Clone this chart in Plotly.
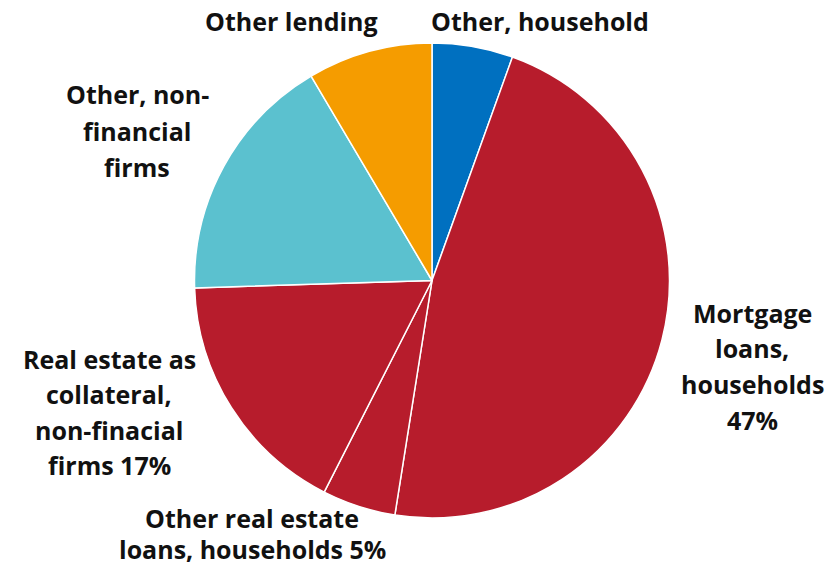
import plotly.graph_objects as go

# Lending breakdown, clockwise from 12 o'clock
categories = [
    "Other, household",
    "Mortgage loans, households",
    "Other real estate loans, households",
    "Real estate as collateral, non-finacial firms",
    "Other, non-financial firms",
    "Other lending",
]
shares = [5.5, 47, 5, 17, 17, 8.5]
colors = ["#0070C0", "#B71C2C", "#B71C2C", "#B71C2C", "#5BC1CF", "#F59C00"]

# Outside labels: text lines with their anchor (pixel x, pixel y of each line)
label_lines = [
    (["Other, household"], 540, [21]),
    (["Mortgage", "loans,", "households", "47%"], 752, [313, 348, 384, 420]),
    (["Other real estate", "loans, households 5%"], 252, [518, 549]),
    (["Real estate as", "collateral,", "non-finacial", "firms 17%"], 109, [359, 394, 430, 465]),
    (["Other, non-", "financial", "firms"], 137, [94, 131, 167]),
    (["Other lending"], 291, [21]),
]

W, H = 830, 566

fig = go.Figure(
    go.Pie(
        labels=categories,
        values=shares,
        sort=False,
        direction="clockwise",
        rotation=0,
        marker=dict(colors=colors, line=dict(color="white", width=1.5)),
        textinfo="none",
        hoverinfo="label+percent",
        showlegend=False,
        domain=dict(x=[194 / W, 670 / W], y=[1 - 518 / H, 1 - 43 / H]),
    )
)

font = dict(family="Open Sans", size=25, color="#111111")
for lines, px, pys in label_lines:
    for text, py in zip(lines, pys):
        fig.add_annotation(
            x=px / W, y=1 - py / H, xref="paper", yref="paper",
            text=f"<b>{text}</b>", showarrow=False,
            xanchor="center", yanchor="middle", font=font,
        )

fig.update_layout(
    width=W, height=H,
    margin=dict(l=0, r=0, t=0, b=0),
    paper_bgcolor="white", plot_bgcolor="white",
)

fig.write_html("out.html")
